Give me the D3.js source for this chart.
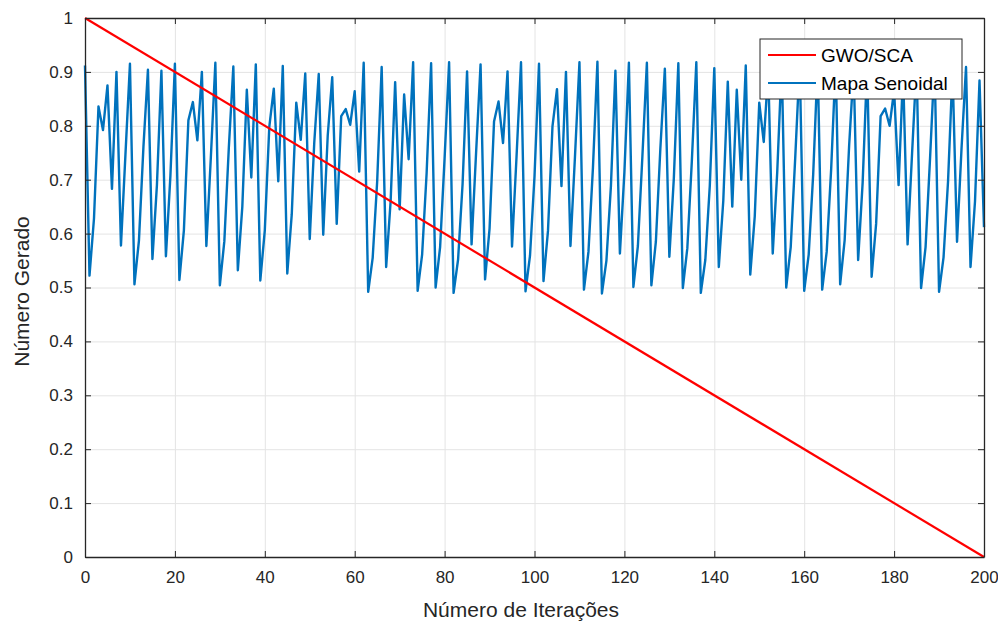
<!DOCTYPE html>
<html>
<head>
<meta charset="utf-8">
<script src="https://cdn.jsdelivr.net/npm/d3@7"></script>
<style>
  html, body { margin: 0; padding: 0; background: #ffffff; }
  svg { display: block; font-family: "Liberation Sans", Arial, Helvetica, sans-serif; }
</style>
</head>
<body>
<svg id="chart" width="998" height="625"></svg>
<script>
// Linear decay of the GWO/SCA control parameter: from 1 at iteration 0 to 0 at 200
const gwoIter = [0, 200];
const gwoValue = [1, 0];

// Sequence produced by the sinusoidal map, one value per iteration (0..200)
const sineMap = [
  0.912, 0.522, 0.628, 0.836, 0.792, 0.875, 0.683, 0.900, 0.578, 0.747,
  0.915, 0.506, 0.587, 0.761, 0.904, 0.553, 0.690, 0.902, 0.558, 0.707,
  0.915, 0.514, 0.606, 0.810, 0.844, 0.773, 0.900, 0.577, 0.742, 0.917,
  0.504, 0.586, 0.760, 0.910, 0.532, 0.650, 0.867, 0.704, 0.914, 0.513,
  0.606, 0.798, 0.869, 0.697, 0.911, 0.526, 0.636, 0.843, 0.774, 0.897,
  0.590, 0.768, 0.896, 0.598, 0.782, 0.890, 0.618, 0.818, 0.831, 0.802,
  0.864, 0.715, 0.917, 0.492, 0.555, 0.697, 0.909, 0.538, 0.661, 0.881,
  0.645, 0.858, 0.738, 0.918, 0.494, 0.561, 0.712, 0.916, 0.500, 0.575,
  0.740, 0.918, 0.490, 0.552, 0.692, 0.901, 0.580, 0.749, 0.914, 0.515,
  0.609, 0.808, 0.845, 0.768, 0.901, 0.576, 0.742, 0.918, 0.493, 0.559,
  0.706, 0.915, 0.512, 0.605, 0.799, 0.868, 0.688, 0.900, 0.577, 0.742,
  0.918, 0.496, 0.566, 0.722, 0.919, 0.489, 0.550, 0.688, 0.902, 0.563,
  0.714, 0.917, 0.501, 0.577, 0.743, 0.917, 0.504, 0.585, 0.758, 0.906,
  0.557, 0.703, 0.916, 0.499, 0.573, 0.734, 0.918, 0.490, 0.551, 0.689,
  0.907, 0.538, 0.661, 0.882, 0.650, 0.867, 0.700, 0.912, 0.524, 0.632,
  0.843, 0.770, 0.903, 0.563, 0.714, 0.917, 0.500, 0.575, 0.740, 0.918,
  0.494, 0.561, 0.710, 0.917, 0.496, 0.566, 0.720, 0.917, 0.506, 0.588,
  0.764, 0.906, 0.551, 0.694, 0.911, 0.520, 0.618, 0.818, 0.832, 0.800,
  0.866, 0.690, 0.899, 0.580, 0.749, 0.915, 0.499, 0.575, 0.740, 0.918,
  0.492, 0.556, 0.697, 0.903, 0.585, 0.758, 0.909, 0.538, 0.660, 0.884,
  0.612
];

const xTicks = [0, 20, 40, 60, 80, 100, 120, 140, 160, 180, 200];
const yTicks = [0, 0.1, 0.2, 0.3, 0.4, 0.5, 0.6, 0.7, 0.8, 0.9, 1];
const yTickLabels = ["0", "0.1", "0.2", "0.3", "0.4", "0.5", "0.6", "0.7", "0.8", "0.9", "1"];

const seriesNames = ["GWO/SCA", "Mapa Senoidal"];
const seriesColors = ["#ff0000", "#0072bd"];

const xLabel = "Número de Iterações";
const yLabel = "Número Gerado";

// ---- layout ----
const svg = d3.select("#chart");
const plot = { left: 85, right: 984, top: 18, bottom: 557 };
const W = plot.right - plot.left;
const H = plot.bottom - plot.top;

const x = d3.scaleLinear().domain([0, 200]).range([plot.left, plot.right]);
const y = d3.scaleLinear().domain([0, 1]).range([plot.bottom, plot.top]);

const axisColor = "#262626";
const gridColor = "#e4e4e4";

// grid
const gGrid = svg.append("g");
gGrid.append("g")
  .attr("transform", `translate(0,${plot.bottom})`)
  .call(d3.axisBottom(x).tickValues(xTicks).tickSize(-H).tickFormat(""))
  .call(g => g.select(".domain").remove())
  .call(g => g.selectAll("line").attr("stroke", gridColor).attr("stroke-width", 1));
gGrid.append("g")
  .attr("transform", `translate(${plot.left},0)`)
  .call(d3.axisLeft(y).tickValues(yTicks).tickSize(-W).tickFormat(""))
  .call(g => g.select(".domain").remove())
  .call(g => g.selectAll("line").attr("stroke", gridColor).attr("stroke-width", 1));

// data lines, clipped to the axes box
svg.append("clipPath").attr("id", "plotClip")
  .append("rect").attr("x", plot.left - 2).attr("y", plot.top - 2)
  .attr("width", W + 4).attr("height", H + 4);

const gData = svg.append("g").attr("clip-path", "url(#plotClip)");

const sineLine = d3.line().x((d, i) => x(i)).y(d => y(d));
gData.append("path")
  .datum(sineMap)
  .attr("fill", "none")
  .attr("stroke", seriesColors[1])
  .attr("stroke-width", 2.4)
  .attr("stroke-linejoin", "round")
  .attr("d", sineLine);

const gwoLine = d3.line().x(d => x(d[0])).y(d => y(d[1]));
gData.append("path")
  .datum(gwoIter.map((it, i) => [it, gwoValue[i]]))
  .attr("fill", "none")
  .attr("stroke", seriesColors[0])
  .attr("stroke-width", 2.2)
  .attr("d", gwoLine);

// axes with inward ticks on all four sides
const tickFont = 17;
function styleAxis(g) {
  g.select(".domain").attr("stroke", axisColor).attr("stroke-width", 1.3);
  g.selectAll(".tick line").attr("stroke", axisColor).attr("stroke-width", 1);
  g.selectAll("text").attr("fill", axisColor).style("font-size", tickFont + "px")
    .style("font-family", '"Liberation Sans", Arial, sans-serif');
}
svg.append("g")
  .attr("transform", `translate(0,${plot.bottom})`)
  .call(d3.axisBottom(x).tickValues(xTicks).tickSizeInner(-6).tickSizeOuter(0).tickPadding(14).tickFormat(d3.format("d")))
  .call(styleAxis);
svg.append("g")
  .attr("transform", `translate(0,${plot.top})`)
  .call(d3.axisTop(x).tickValues(xTicks).tickSizeInner(-6).tickSizeOuter(0).tickFormat(""))
  .call(styleAxis);
svg.append("g")
  .attr("transform", `translate(${plot.left},0)`)
  .call(d3.axisLeft(y).tickValues(yTicks).tickSizeInner(-6).tickSizeOuter(0).tickPadding(12)
    .tickFormat((d, i) => yTickLabels[i]))
  .call(styleAxis);
svg.append("g")
  .attr("transform", `translate(${plot.right},0)`)
  .call(d3.axisRight(y).tickValues(yTicks).tickSizeInner(-6).tickSizeOuter(0).tickFormat(""))
  .call(styleAxis);

// axis titles
svg.append("text")
  .attr("x", 521)
  .attr("y", 617)
  .attr("text-anchor", "middle")
  .attr("fill", axisColor)
  .style("font-size", "21px")
  .text(xLabel);
svg.append("text")
  .attr("transform", `translate(29,${(plot.top + plot.bottom) / 2 + 4}) rotate(-90)`)
  .attr("text-anchor", "middle")
  .attr("fill", axisColor)
  .style("font-size", "21px")
  .text(yLabel);

// legend
const leg = svg.append("g").attr("transform", "translate(760,39)");
leg.append("rect")
  .attr("width", 202).attr("height", 60)
  .attr("fill", "#ffffff").attr("stroke", axisColor).attr("stroke-width", 1);
seriesNames.forEach((name, i) => {
  const cy = 16 + i * 28;
  leg.append("line")
    .attr("x1", 8).attr("x2", 56).attr("y1", cy).attr("y2", cy)
    .attr("stroke", seriesColors[i]).attr("stroke-width", 2.2);
  leg.append("text")
    .attr("x", 61).attr("y", cy + 7)
    .attr("fill", "#000000")
    .style("font-size", "19px")
    .text(name);
});
</script>
</body>
</html>
